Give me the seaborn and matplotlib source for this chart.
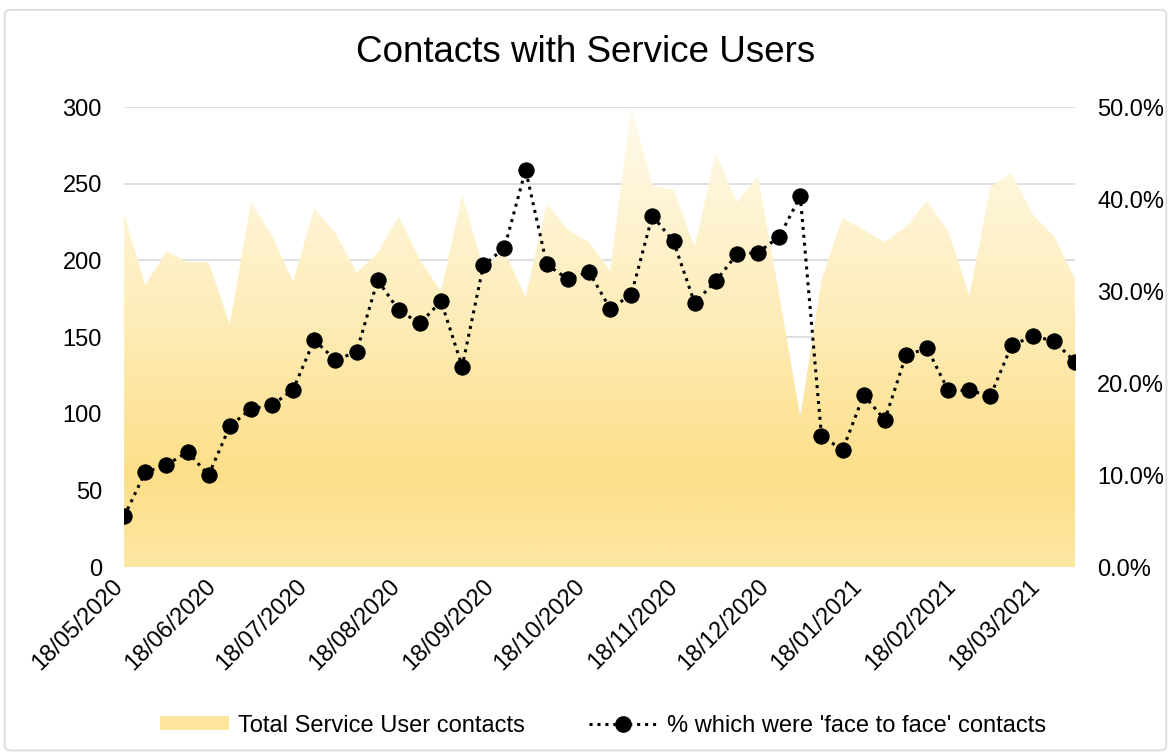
import numpy as np
import pandas as pd
import matplotlib
matplotlib.use("Agg")
import matplotlib.pyplot as plt
import matplotlib.dates as mdates
from matplotlib.colors import LinearSegmentedColormap
from matplotlib.patches import FancyBboxPatch, Patch
from matplotlib.lines import Line2D
from matplotlib.ticker import FuncFormatter
from matplotlib.transforms import ScaledTranslation
import seaborn as sns

# weekly data, week commencing 18/05/2020
start_date = "2020-05-18"
n_weeks = 46
total_contacts = [230, 184, 206, 199, 199, 158, 238, 216, 186, 234,
                  218, 192, 205, 229, 200, 180, 243, 195, 206, 176,
                  237, 220, 212, 193, 300, 249, 246, 209, 270, 238,
                  255, 178, 98, 187, 228, 220, 212, 222, 239, 219,
                  177, 248, 257, 230, 216, 188]
pct_face_to_face = [5.5, 10.3, 11.1, 12.5, 10.0, 15.3, 17.2, 17.6, 19.3, 24.7,
                    22.5, 23.4, 31.2, 27.9, 26.5, 28.9, 21.8, 32.8, 34.7, 43.2,
                    32.9, 31.3, 32.1, 28.1, 29.6, 38.2, 35.4, 28.7, 31.1, 34.0,
                    34.2, 35.9, 40.3, 14.3, 12.7, 18.7, 16.0, 23.0, 23.8, 19.2,
                    19.2, 18.6, 24.1, 25.1, 24.6, 22.3]

title = "Contacts with Service Users"
area_label = "Total Service User contacts"
line_label = "% which were 'face to face' contacts"


def main():
    dates = pd.date_range(start_date, periods=n_weeks, freq="7D")
    df = pd.DataFrame({"week": dates,
                       "total": total_contacts,
                       "pct": np.array(pct_face_to_face) / 100})

    sns.set_theme(style="white")
    plt.rcParams["font.family"] = ["Liberation Sans", "DejaVu Sans"]
    plt.rcParams["text.color"] = "black"
    fs = 17

    fig = plt.figure(figsize=(11.71, 7.55), dpi=100)
    ax = fig.add_axes([0.106, 0.249, 0.812, 0.609])

    # figure border like the spreadsheet chart frame
    fig.patches.append(FancyBboxPatch((0.004, 0.006), 0.992, 0.981,
                                      boxstyle="round,pad=0,rounding_size=0.006",
                                      transform=fig.transFigure, facecolor="none",
                                      edgecolor="#D9D9D9", linewidth=1.2))

    # gradient filled area for total contacts
    poly = ax.fill_between(df["week"], 0, df["total"], color="none", linewidth=0)
    cmap = LinearSegmentedColormap.from_list(
        "gold", [(0.0, "#FDE7A3"), (0.2, "#FDDF89"), (0.55, "#FEEDBA"), (1.0, "#FFFBEC")])
    xnum = mdates.date2num(df["week"])
    grad = np.linspace(0, 1, 256).reshape(-1, 1)
    img = ax.imshow(grad, cmap=cmap, origin="lower", aspect="auto",
                    extent=[xnum[0], xnum[-1], 0, 300], zorder=1)
    img.set_clip_path(poly.get_paths()[0], transform=ax.transData)

    ax.set_xlim(df["week"].iloc[0], df["week"].iloc[-1])
    ax.set_ylim(0, 300)
    ax.set_yticks(range(0, 301, 50))
    ax.grid(axis="y", color="#D9D9D9", linewidth=1.2)
    ax.set_axisbelow(True)
    for s in ax.spines.values():
        s.set_visible(False)
    ax.tick_params(axis="y", length=0, labelsize=fs, colors="black", pad=16)
    ax.tick_params(axis="x", length=0, labelsize=fs, colors="black", pad=6)
    ax.xaxis.set_major_locator(mdates.MonthLocator(bymonthday=18))
    ax.xaxis.set_major_formatter(mdates.DateFormatter("%d/%m/%Y"))
    shift = ScaledTranslation(-9 / 72, 0, fig.dpi_scale_trans)
    for lab in ax.get_xticklabels():
        lab.set_rotation(45)
        lab.set_ha("right")
        lab.set_rotation_mode("anchor")
        lab.set_transform(lab.get_transform() + shift)

    # percentage line on the secondary axis
    ax2 = ax.twinx()
    sns.lineplot(data=df, x="week", y="pct", ax=ax2, color="black",
                 linestyle=(0, (1, 1.6)), linewidth=2.2, marker="o",
                 markersize=11, markeredgecolor="black", legend=False)
    ax2.set_ylim(0, 0.5)
    ax2.set_yticks(np.arange(0, 0.51, 0.1))
    ax2.yaxis.set_major_formatter(FuncFormatter(lambda v, p: f"{v * 100:.1f}%"))
    ax2.set_xlabel("")
    ax2.set_ylabel("")
    ax.set_xlabel("")
    ax.set_ylabel("")
    for s in ax2.spines.values():
        s.set_visible(False)
    ax2.tick_params(axis="y", length=0, labelsize=fs, colors="black", pad=16)
    ax2.grid(False)

    fig.text(0.5, 0.931, title, ha="center", va="center", fontsize=26.5, color="black")

    handles = [Patch(facecolor="#FDE59E", edgecolor="none"),
               Line2D([0], [0], color="black", linestyle=(0, (1, 1.6)), linewidth=2.2,
                      marker="o", markersize=11)]
    fig.legend(handles, [area_label, line_label], loc="center", ncol=2,
               bbox_to_anchor=(0.515, 0.039), frameon=False, fontsize=fs,
               handlelength=2.9, handleheight=0.5, columnspacing=2.7, handletextpad=0.4)

    fig.savefig("out.png", dpi=100)
    plt.close(fig)


if __name__ == "__main__":
    main()
